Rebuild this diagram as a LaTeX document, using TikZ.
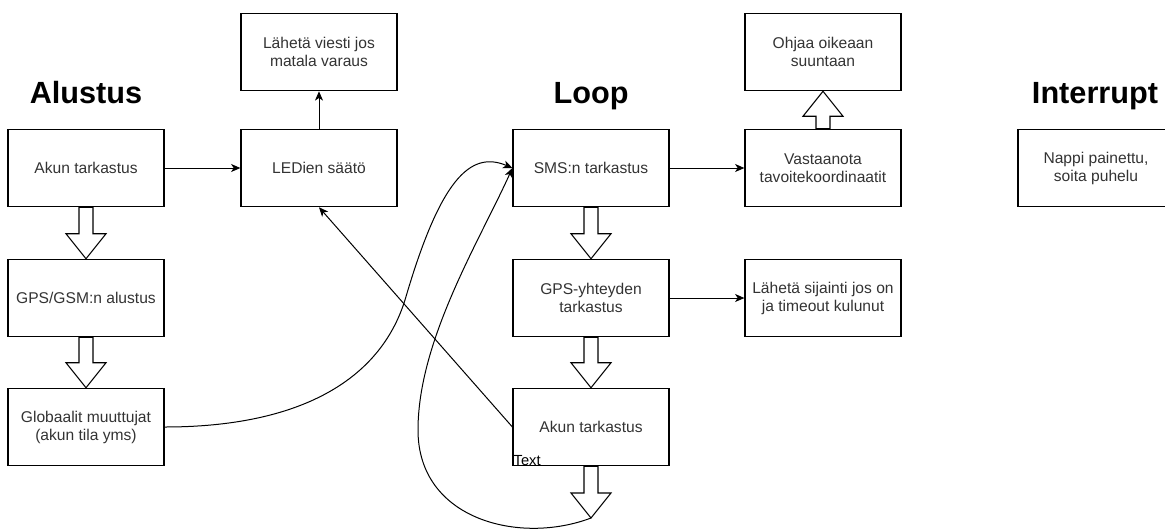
\documentclass[tikz,border=0pt]{standalone}
\usepackage{fontspec}
\setmainfont{Liberation Sans}
\usetikzlibrary{positioning,calc,arrows.meta}

% hollow block arrow between two anchors
\newcommand{\fatarrow}[2]{%
  \coordinate (fathead) at ($(#2)!18.75pt!(#1)$);
  \draw[fatline] ($(#1)!5.25pt!90:(#2)$) -- ($(fathead)!5.25pt!90:(#2)$)
    -- ($(fathead)!15pt!90:(#2)$) -- (#2) -- ($(fathead)!15pt!-90:(#2)$)
    -- ($(fathead)!5.25pt!-90:(#2)$) -- ($(#1)!5.25pt!-90:(#2)$) -- cycle;}

\begin{document}
\begin{tikzpicture}[x=0.75pt,y=-0.75pt,
  box/.style={draw,line width=0.9pt,minimum width=117pt,minimum height=58pt,
    align=center,inner sep=0pt,text=black!80,font=\fontsize{11.7}{13.5}\selectfont},
  title/.style={anchor=base,font=\fontsize{23}{27}\selectfont\bfseries},
  conn/.style={line width=0.75pt,-{Stealth[length=7pt,width=6pt,inset=2pt]}},
  fatline/.style={draw,fill=white,line width=0.8pt,line join=miter}]
\useasboundingbox (0,0) rectangle (1165,529);
% section titles
\node[title] (alustus) at (86,103) {Alustus};
\node[title] (loop) at (591,103) {Loop};
\node[title] (interrupt) at (1095,103) {Interrupt};
% init column
\node[box] (akun1) at (86,168) {Akun tarkastus};
\node[box] (gsm) at (86,298) {GPS/GSM:n alustus};
\node[box] (glob) at (86,427) {Globaalit muuttujat\\(akun tila yms)};
\node[box] (leds) at (319,168) {LEDien säätö};
\node[box] (viesti) at (319,52) {Lähetä viesti jos\\matala varaus};
% loop column
\node[box] (sms) at (591,168) {SMS:n tarkastus};
\node[box] (gpsyht) at (591,298) {GPS-yhteyden\\tarkastus};
\node[box] (akun2) at (591,427) {Akun tarkastus};
\node[anchor=base west,inner sep=0pt,font=\fontsize{11}{13}\selectfont] (textlbl)
  at ($(akun2.south west)+(1,-1)$) {Text};
\node[box] (ohjaa) at (823,52) {Ohjaa oikeaan\\suuntaan};
\node[box] (vast) at (823,168) {Vastaanota\\tavoitekoordinaatit};
\node[box] (sijainti) at (823,298) {Lähetä sijainti jos on\\ja timeout kulunut};
% interrupt
\node[box] (nappi) at (1096,168) {Nappi painettu,\\soita puhelu};
% plain connectors
\draw[conn] (akun1.east) -- (leds.west);
\draw[conn] (leds.north) -- (viesti.south);
\draw[conn] (sms.east) -- (vast.west);
\draw[conn] (gpsyht.east) -- (sijainti.west);
\draw[conn] (akun2.west) -- (leds.south);
% block arrows
\fatarrow{akun1.south}{gsm.north}
\fatarrow{gsm.south}{glob.north}
\fatarrow{sms.south}{gpsyht.north}
\fatarrow{gpsyht.south}{akun2.north}
\fatarrow{vast.north}{ohjaa.south}
\coordinate (looptip) at (591,518);
\fatarrow{akun2.south}{looptip}
% curved returns into SMS check
\draw[conn] (glob.east) .. controls (300,427) and (380,380) .. (405,300)
  .. controls (440,180) and (470,150) .. (sms.west);
\draw[conn] (looptip) .. controls (520,545) and (418,520) .. (418,430)
  .. controls (418,340) and (480,240) .. (sms.west);
\end{tikzpicture}
\end{document}
